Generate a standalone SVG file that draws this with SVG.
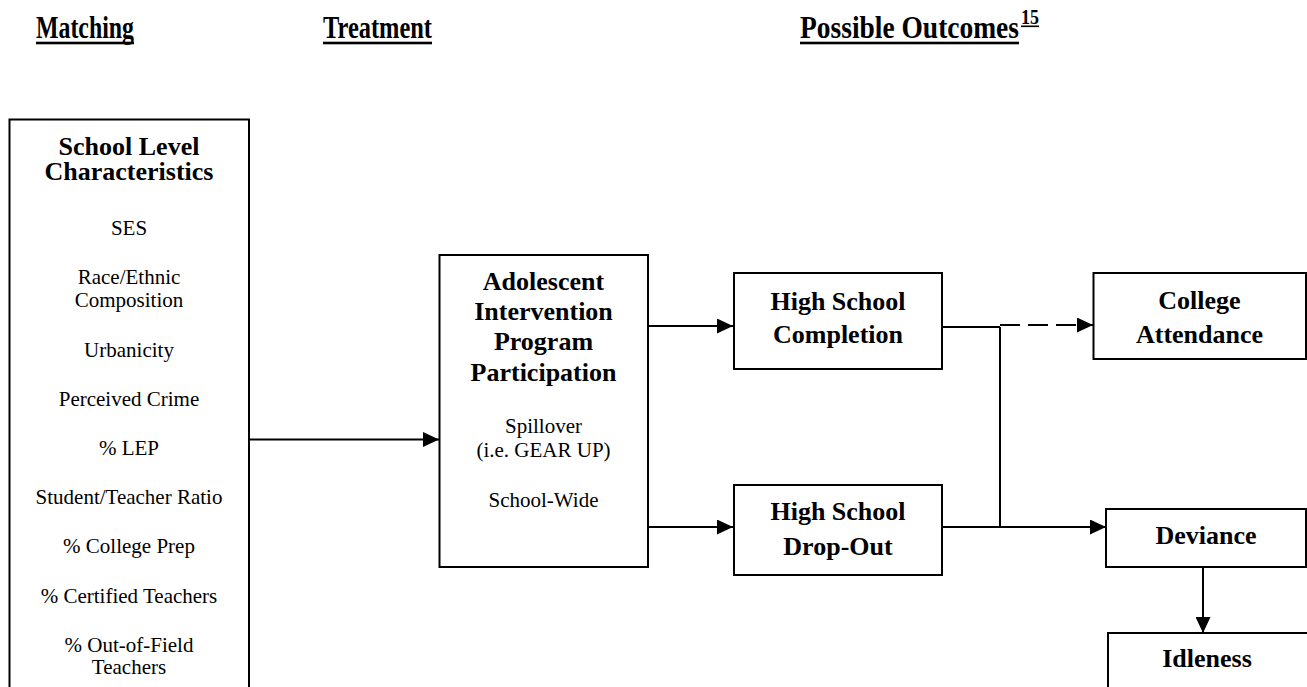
<svg xmlns="http://www.w3.org/2000/svg" width="1307" height="687" viewBox="0 0 1307 687">
<style>
.box{fill:#fff;stroke:#000;stroke-width:2}
.t{font-family:"Liberation Serif","Times New Roman",serif;fill:#000;text-anchor:middle}
.b{font-weight:bold;font-size:26px}
.r{font-size:21px}
.h{font-family:"Liberation Serif","Times New Roman",serif;font-weight:bold;font-size:32px;fill:#000}
.ln{fill:none;stroke:#000;stroke-width:2}
</style>
<defs>
<marker id="ah" markerUnits="userSpaceOnUse" markerWidth="16" markerHeight="15" refX="16" refY="7.5" orient="auto">
<path d="M0,0 L16,7.5 L0,15 z" fill="#000"/>
</marker>
</defs>
<rect width="1307" height="687" fill="#fff"/>
<g id="headers">
<text class="h" x="36" y="38" textLength="98" lengthAdjust="spacingAndGlyphs">Matching</text>
<rect x="36" y="41.7" width="98" height="2.6"/>
<text class="h" x="323" y="38" textLength="109" lengthAdjust="spacingAndGlyphs">Treatment</text>
<rect x="323" y="41.7" width="109" height="2.6"/>
<text class="h" x="800" y="38" textLength="219" lengthAdjust="spacingAndGlyphs">Possible Outcomes</text>
<rect x="800" y="41.7" width="219" height="2.6"/>
<text class="h" x="1021" y="24" style="font-size:21px" textLength="18" lengthAdjust="spacingAndGlyphs">15</text>
<rect x="1021" y="25.5" width="18" height="1.6"/>
</g>
<g id="connectors">
<line class="ln" x1="249" y1="439.5" x2="439" y2="439.5" marker-end="url(#ah)"/>
<line class="ln" x1="648" y1="326" x2="733" y2="326" marker-end="url(#ah)"/>
<line class="ln" x1="648" y1="527" x2="733" y2="527" marker-end="url(#ah)"/>
<line class="ln" x1="942" y1="327" x2="1000" y2="327"/>
<line class="ln" x1="1000" y1="327" x2="1000" y2="527"/>
<line class="ln" x1="1000" y1="325" x2="1093" y2="325" stroke-dasharray="20 8" marker-end="url(#ah)"/>
<line class="ln" x1="942" y1="527" x2="1106" y2="527" marker-end="url(#ah)"/>
<line class="ln" x1="1203" y1="567" x2="1203" y2="633" marker-end="url(#ah)"/>
</g>
<g id="school-level">
<rect class="box" x="9.5" y="119.5" width="239.5" height="600"/>
<text class="t b" x="129" y="155">School Level</text>
<text class="t b" x="129" y="180">Characteristics</text>
<text class="t r" x="129" y="235">SES</text>
<text class="t r" x="129" y="284">Race/Ethnic</text>
<text class="t r" x="129" y="307">Composition</text>
<text class="t r" x="129" y="357">Urbanicity</text>
<text class="t r" x="129" y="406">Perceived Crime</text>
<text class="t r" x="129" y="455">% LEP</text>
<text class="t r" x="129" y="504">Student/Teacher Ratio</text>
<text class="t r" x="129" y="553">% College Prep</text>
<text class="t r" x="129" y="603">% Certified Teachers</text>
<text class="t r" x="129" y="652">% Out-of-Field</text>
<text class="t r" x="129" y="674">Teachers</text>
</g>
<g id="treatment">
<rect class="box" x="439.5" y="255" width="208.5" height="312"/>
<text class="t b" x="543.5" y="290">Adolescent</text>
<text class="t b" x="543.5" y="320">Intervention</text>
<text class="t b" x="543.5" y="350">Program</text>
<text class="t b" x="543.5" y="381">Participation</text>
<text class="t r" x="543.5" y="433">Spillover</text>
<text class="t r" x="543.5" y="457">(i.e. GEAR UP)</text>
<text class="t r" x="543.5" y="507">School-Wide</text>
</g>
<g id="hs-completion">
<rect class="box" x="734" y="273" width="208" height="96"/>
<text class="t b" x="838" y="310">High School</text>
<text class="t b" x="838" y="343">Completion</text>
</g>
<g id="hs-dropout">
<rect class="box" x="734" y="485" width="208" height="90"/>
<text class="t b" x="838" y="520">High School</text>
<text class="t b" x="838" y="555">Drop-Out</text>
</g>
<g id="college">
<rect class="box" x="1093.5" y="273" width="212.5" height="86"/>
<text class="t b" x="1199.5" y="309">College</text>
<text class="t b" x="1199.5" y="343">Attendance</text>
</g>
<g id="deviance">
<rect class="box" x="1106" y="509" width="200" height="58"/>
<text class="t b" x="1206" y="544">Deviance</text>
</g>
<g id="idleness">
<rect class="box" x="1108" y="633" width="210" height="80"/>
<text class="t b" x="1207" y="667">Idleness</text>
</g>
</svg>
